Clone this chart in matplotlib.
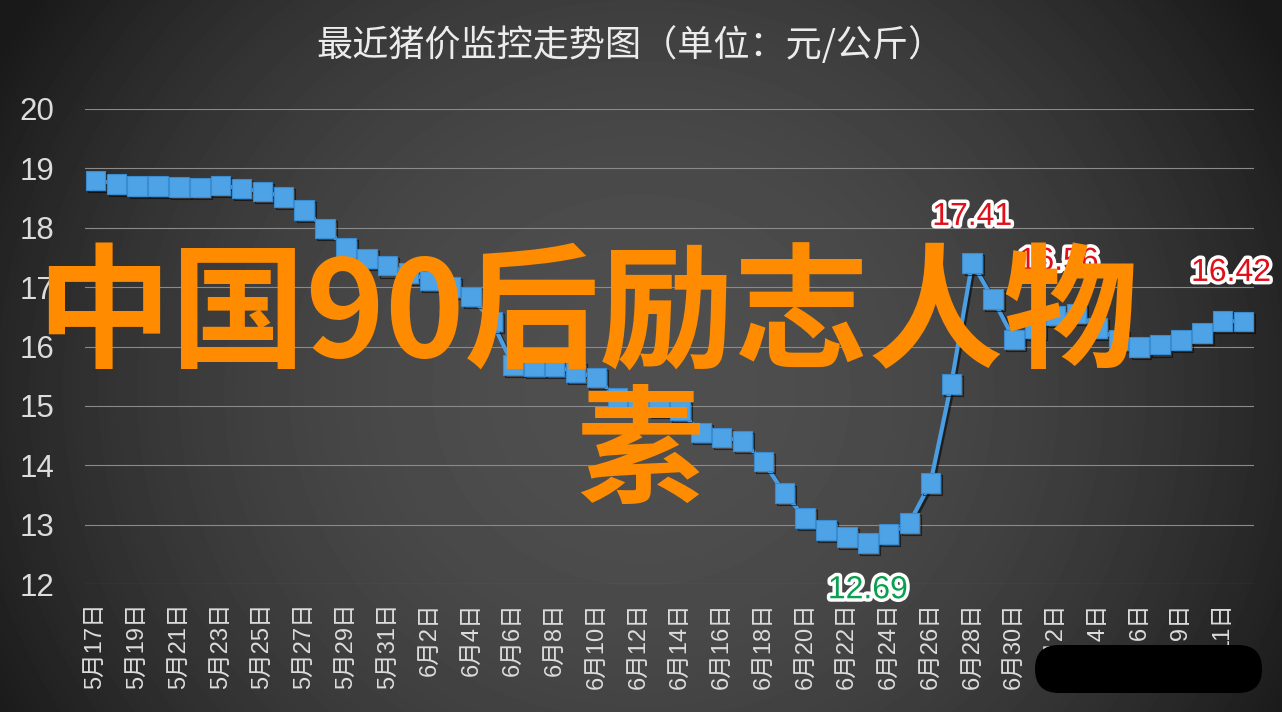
import matplotlib
matplotlib.use('Agg')

import matplotlib.pyplot as plt
import matplotlib.patheffects as pe
from matplotlib.patches import FancyBboxPatch
import numpy as np

plt.rcParams['font.family'] = ['Liberation Sans', 'Noto Sans CJK SC', 'DejaVu Sans']

title = '最近猪价监控走势图（单位：元/公斤）'
watermark_1 = '中国90后励志人物'
watermark_2 = '素'

dates = ['5月17日', '5月18日', '5月19日', '5月20日', '5月21日', '5月22日', '5月23日',
         '5月24日', '5月25日', '5月26日', '5月27日', '5月28日', '5月29日', '5月30日',
         '5月31日', '6月1日', '6月2日', '6月3日', '6月4日', '6月5日', '6月6日',
         '6月7日', '6月8日', '6月9日', '6月10日', '6月11日', '6月12日', '6月13日',
         '6月14日', '6月15日', '6月16日', '6月17日', '6月18日', '6月19日', '6月20日',
         '6月21日', '6月22日', '6月23日', '6月24日', '6月25日', '6月26日', '6月27日',
         '6月28日', '6月29日', '6月30日', '7月1日', '7月2日', '7月3日', '7月4日',
         '7月5日', '7月6日', '7月8日', '7月9日', '7月10日', '7月11日', '7月12日']

prices = [18.80, 18.74, 18.70, 18.70, 18.69, 18.68, 18.71, 18.66, 18.61, 18.52,
          18.30, 17.99, 17.66, 17.48, 17.36, 17.24, 17.11, 17.00, 16.84, 16.42,
          15.69, 15.66, 15.66, 15.57, 15.48, 15.13, 15.08, 15.00, 14.92, 14.55,
          14.47, 14.41, 14.06, 13.53, 13.11, 12.91, 12.79, 12.69, 12.84, 13.03,
          13.70, 15.37, 17.41, 16.80, 16.12, 16.30, 16.52, 16.56, 16.31, 16.11,
          15.99, 16.03, 16.11, 16.23, 16.43, 16.42]

# points that carry a value label
high_points = [42, 47, 55]
low_points = [37]

W, H = 1282, 712
fig = plt.figure(figsize=(W / 100, H / 100), dpi=100)

# dark radial background
bg = fig.add_axes([0, 0, 1, 1], zorder=0)
yy, xx = np.mgrid[0:H, 0:W]
r2 = ((xx - 641) / 641) ** 2 + ((yy - 390) / 600) ** 2
grad = np.clip(0.31 - 0.16 * r2, 0.1, 1)
bg.imshow(grad, extent=[0, W, H, 0], aspect='auto', cmap='gray', vmin=0, vmax=1)
bg.axis('off')

ax = fig.add_axes([85 / W, 128 / H, 1169 / W, 475 / H], zorder=1)
ax.patch.set_alpha(0)

x = np.arange(len(prices))
ax.plot(x, prices, color='#4a9ee3', lw=3, marker='s', ms=14,
        mfc='#4ea3e6', mec='#3b8bd0', mew=0.8, clip_on=False, zorder=3,
        path_effects=[pe.SimpleLineShadow(offset=(1.5, -1.5), shadow_color='black', alpha=0.55),
                      pe.Normal()])

ax.set_xlim(-0.5, len(prices) - 0.5)
ax.set_ylim(12, 20)
ax.set_yticks(range(12, 21))
ax.set_xticks(x[::2])
ax.set_xticklabels(dates[::2], rotation=90, fontsize=17, color='#dcdcdc')
ax.tick_params(axis='y', length=0, pad=22, labelsize=22.5, labelcolor='#dcdcdc')
ax.tick_params(axis='x', length=0, pad=13)
ax.grid(axis='y', color='#8a8a8a', lw=0.8)
ax.set_axisbelow(True)
for s in ax.spines.values():
    s.set_visible(False)

glow = [pe.withStroke(linewidth=5, foreground='white')]
offsets = {42: (0, 33), 47: (-13, 37), 55: (-9, 35)}
for i in high_points:
    ax.annotate(f'{prices[i]:.2f}', xy=(i, prices[i]), xytext=offsets[i],
                textcoords='offset points', ha='center', va='center',
                fontsize=23, color='#e0101a', path_effects=glow, zorder=4)
for i in low_points:
    ax.annotate(f'{prices[i]:.2f}', xy=(i, prices[i]), xytext=(0, -34),
                textcoords='offset points', ha='center', va='center',
                fontsize=23, color='#0aa050', path_effects=glow, zorder=4)

fig.text(630 / W, 1 - 45 / H, title, ha='center', va='center', fontsize=26,
         color='#ececec', family=['Noto Sans CJK SC', 'DejaVu Sans'])

# black redaction box at bottom right
ov = fig.add_axes([0, 0, 1, 1], zorder=2)
ov.set_xlim(0, W)
ov.set_ylim(H, 0)
ov.axis('off')
ov.add_patch(FancyBboxPatch((1035, 645), 227, 48, boxstyle='round,pad=0,rounding_size=24',
                            fc='black', ec='none'))

fig.text(36 / W, 1 - 319 / H, watermark_1, ha='left', va='center', fontsize=97,
         color='#ff8c00', weight='bold', family='Noto Sans CJK SC', zorder=5)
fig.text(640 / W, 1 - 456 / H, watermark_2, ha='center', va='center', fontsize=92,
         color='#ff8c00', weight='bold', family='Noto Sans CJK SC', zorder=5)

fig.savefig('out.png', dpi=100)
